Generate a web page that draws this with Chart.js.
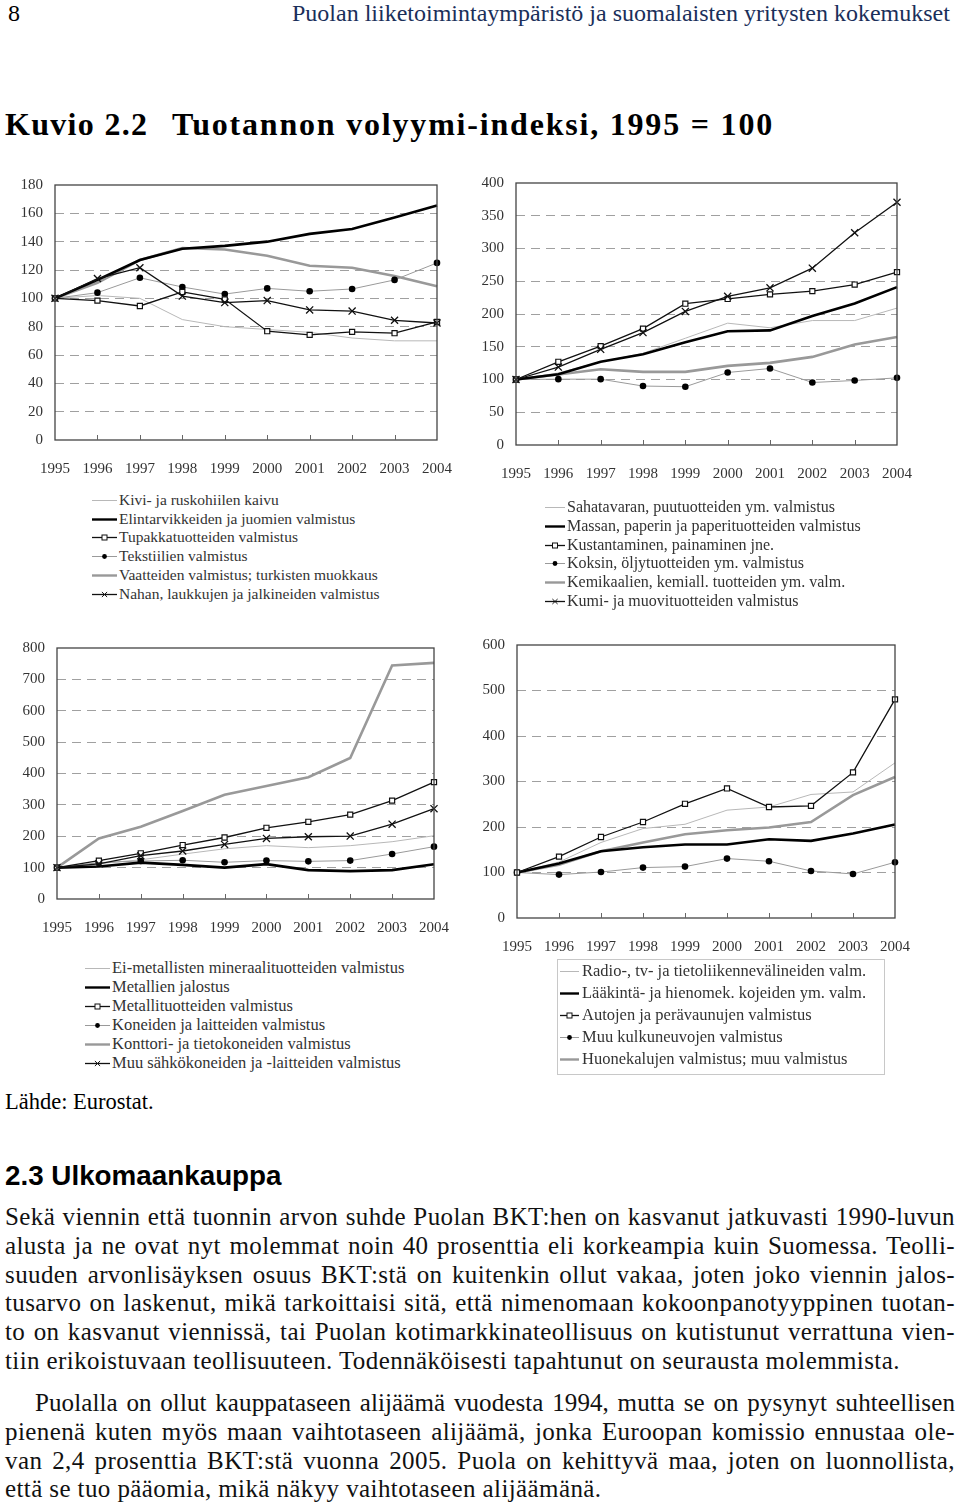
<!DOCTYPE html>
<html><head><meta charset="utf-8">
<script src="https://cdn.jsdelivr.net/npm/chart.js@4.4.1/dist/chart.umd.min.js"></script>
<style>
html,body{margin:0;padding:0;background:#fff;}
body{width:960px;height:1504px;position:relative;overflow:hidden;font-family:"Liberation Serif","DejaVu Serif",serif;color:#000;}
.abs{position:absolute;white-space:nowrap;}
canvas{position:absolute;}
.leg{position:absolute;font-family:"Liberation Serif",serif;color:#333;}
.leg .row{position:absolute;left:0;white-space:nowrap;height:18px;line-height:18px;}
.leg svg{position:absolute;left:0;top:0;}
.leg span{position:absolute;top:0;}
.txt{position:absolute;left:5px;width:950px;font-size:25px;letter-spacing:0.4px;line-height:28.8px;font-family:"Liberation Serif",serif;color:#111;}
.txt div{text-align:justify;text-align-last:justify;white-space:nowrap;}
.txt div.last{text-align-last:left;}
</style></head><body>
<div class="abs" style="left:8px;top:0px;font-size:24px;">8</div>
<div class="abs" style="left:292px;top:0px;font-size:24px;color:#1a2f5a;">Puolan liiketoimintaympäristö ja suomalaisten yritysten kokemukset</div>
<div class="abs" style="left:5px;top:106px;font-size:32px;font-weight:bold;letter-spacing:1.3px;">Kuvio 2.2</div>
<div class="abs" style="left:172px;top:106px;font-size:32px;font-weight:bold;letter-spacing:1.8px;">Tuotannon volyymi-indeksi, 1995 = 100</div>

<canvas id="c1" width="472" height="316" style="left:0;top:164px;"></canvas>
<canvas id="c2" width="472" height="323" style="left:460px;top:162px;"></canvas>
<canvas id="c3" width="469" height="308" style="left:0;top:627px;"></canvas>
<canvas id="c4" width="470" height="329" style="left:460px;top:624px;"></canvas>

<div id="l1" class="leg" style="left:92px;top:491px;font-size:15.5px;"></div>
<div id="l2" class="leg" style="left:545px;top:498px;font-size:16px;"></div>
<div id="l3" class="leg" style="left:85px;top:959px;font-size:16.5px;"></div>
<div id="l4" class="leg" style="left:560px;top:962px;font-size:16.5px;"></div>
<div class="abs" style="left:557px;top:959px;width:326px;height:114px;border:1px solid #c8c8c8;"></div>

<div class="abs" style="left:5px;top:1089px;font-size:22.5px;">Lähde: Eurostat.</div>
<div class="abs" style="left:5px;top:1160px;font-size:27.8px;font-weight:bold;font-family:'Liberation Sans',Arial,sans-serif;">2.3 Ulkomaankauppa</div>
<div class="txt" style="top:1203px;">
<div>Sekä viennin että tuonnin arvon suhde Puolan BKT:hen on kasvanut jatkuvasti 1990-luvun</div>
<div>alusta ja ne ovat nyt molemmat noin 40 prosenttia eli korkeampia kuin Suomessa. Teolli-</div>
<div>suuden arvonlisäyksen osuus BKT:stä on kuitenkin ollut vakaa, joten joko viennin jalos-</div>
<div>tusarvo on laskenut, mikä tarkoittaisi sitä, että nimenomaan kokoonpanotyyppinen tuotan-</div>
<div>to on kasvanut viennissä, tai Puolan kotimarkkinateollisuus on kutistunut verrattuna vien-</div>
<div class="last">tiin erikoistuvaan teollisuuteen. Todennäköisesti tapahtunut on seurausta molemmista.</div>
</div>
<div class="txt" style="top:1389px;">
<div style="padding-left:30px;letter-spacing:0.1px;">Puolalla on ollut kauppataseen alijäämä vuodesta 1994, mutta se on pysynyt suhteellisen</div>
<div>pienenä kuten myös maan vaihtotaseen alijäämä, jonka Euroopan komissio ennustaa ole-</div>
<div>van 2,4 prosenttia BKT:stä vuonna 2005. Puola on kehittyvä maa, joten on luonnollista,</div>
<div class="last">että se tuo pääomia, mikä näkyy vaihtotaseen alijäämänä.</div>
</div>

<script>
// ---------- DATA ----------
const years = ["1995","1996","1997","1998","1999","2000","2001","2002","2003","2004"];

// Chart 1 (0–180)
const kivi        = [100,102,100,85,80,78,76,72,70,70];
const elintarvike = [100,113,127,135,137,140,145.5,149,157,165.5];
const tupakka     = [100,98.4,94.6,104.5,99.3,76.8,74.2,76.3,75.4,83.3];
const tekstiili   = [100,104,114.5,108,103,107,105,106.6,113,125];
const vaatteet    = [100,111,127,135.5,134.5,130,123,121.6,115.7,108.5];
const nahka       = [100,114,121.6,101.6,97,98.4,91.8,91,84.5,82.6];
const labels1 = ["Kivi- ja ruskohiilen kaivu","Elintarvikkeiden ja juomien valmistus","Tupakkatuotteiden valmistus","Tekstiilien valmistus","Vaatteiden valmistus; turkisten muokkaus","Nahan, laukkujen ja jalkineiden valmistus"];

// Chart 2 (0–400)
const sahatavara  = [100,110,127,140,163,186,179,190,190,209];
const massa       = [100,108,127,138.6,157,173.6,175,197,216,241];
const kustannus   = [100,127,151,177.7,215.7,223,230,235,245,264];
const koksi       = [100,100.5,100.5,90,89,110.7,116.8,95.4,98.5,102.5];
const kemikaali   = [100,107.6,115.7,111.7,111.7,120.8,125.4,134.5,153.3,165];
const kumi        = [100,119,146,171.6,204,227,240,270,324,370.6];
const labels2 = ["Sahatavaran, puutuotteiden ym. valmistus","Massan, paperin ja paperituotteiden valmistus","Kustantaminen, painaminen jne.","Koksin, öljytuotteiden ym. valmistus","Kemikaalien, kemiall. tuotteiden ym. valm.","Kumi- ja muovituotteiden valmistus"];

// Chart 3 (0–800)
const eimetalli   = [100,113,125,143,160,170,163.6,170,182.6,201.6];
const metallit    = [100,103.4,116,108.7,100,111,92,88.7,92,111];
const metallituot = [100,122,145.6,172,196,227,246,269,313.5,372.6];
const koneet      = [100,116,121,123.5,117,122.4,120,122.4,143.5,166.8];
const konttori    = [100,193,230,280.7,332.5,360,388,449.6,744,752.5];
const sahko       = [100,112,138,153,174,193,198.4,200.5,238.5,288];
const labels3 = ["Ei-metallisten mineraalituotteiden valmistus","Metallien jalostus","Metallituotteiden valmistus","Koneiden ja laitteiden valmistus","Konttori- ja tietokoneiden valmistus","Muu sähkökoneiden ja -laitteiden valmistus"];

// Chart 4 (0–600)
const radio       = [100,123,166,196.6,206,237,244,271.5,277,341];
const laakinta    = [100,119.6,146.7,155.5,161.4,161.4,173,169.5,185.6,205.4];
const autot       = [100,135,178,211,251,284.7,244,246.5,320,480.6];
const kulkuneuvot = [100,95.4,101,110.8,113,130.6,124.7,103.4,96.8,122.5];
const huonekalut  = [100,117,146.7,165.8,184,193,198.8,211,270,310];
const labels4 = ["Radio-, tv- ja tietoliikennevälineiden valm.","Lääkintä- ja hienomek. kojeiden ym. valm.","Autojen ja perävaunujen valmistus","Muu kulkuneuvojen valmistus","Huonekalujen valmistus; muu valmistus"];

// ---------- STYLES ----------
const ST = {
  thin:  {borderColor:'#b8b8b8',borderWidth:1,pointRadius:0},
  black: {borderColor:'#000',borderWidth:2.6,pointRadius:0},
  sq:    {borderColor:'#111',borderWidth:1.3,pointStyle:'rect',pointRadius:3.6,pointBackgroundColor:'#fff',pointBorderColor:'#111',pointBorderWidth:1.2},
  dot:   {borderColor:'#9a9a9a',borderWidth:1,pointStyle:'circle',pointRadius:3.3,pointBackgroundColor:'#000',pointBorderColor:'#000',pointBorderWidth:0},
  gray:  {borderColor:'#999',borderWidth:2.6,pointRadius:0},
  x:     {borderColor:'#111',borderWidth:1.3,pointStyle:'crossRot',pointRadius:5,pointBorderColor:'#111',pointBorderWidth:1.3}
};
function ds(label,data,style,order){return Object.assign({label,data,tension:0,fill:false,order},ST[style]);}

const framePlugin = {id:'frame',afterDraw(ch){
  const a=ch.chartArea,c=ch.ctx,xs=ch.scales.x;
  c.save();c.strokeStyle='#444';c.lineWidth=1.3;
  c.strokeRect(a.left,a.top,a.right-a.left,a.bottom-a.top);
  c.lineWidth=1;c.strokeStyle='#666';c.beginPath();
  for(let i=1;i<years.length-1;i++){const px=Math.round(xs.getPixelForValue(i))+0.5;c.moveTo(px,a.bottom);c.lineTo(px,a.bottom-5);}
  c.stroke();c.restore();}};

Chart.defaults.font.family = '"Liberation Serif","DejaVu Serif",serif';
Chart.defaults.color = '#333';

function makeChart(id,datasets,max,step,pad,yw,xh,xpad){
  return new Chart(document.getElementById(id),{
    type:'line',
    data:{labels:years,datasets},
    plugins:[framePlugin],
    options:{
      responsive:false,animation:false,
      layout:{padding:pad},
      plugins:{legend:{display:false},tooltip:{enabled:false}},
      scales:{
        x:{offset:false,grid:{display:false,drawTicks:false},border:{display:false},
           ticks:{font:{size:15},padding:xpad,maxRotation:0,autoSkip:false,color:'#333'},
           afterFit(s){s.height=xh;}},
        y:{min:0,max:max,grid:{color:(c)=>(c.tick&&(c.tick.value===0||c.tick.value===max))?'rgba(0,0,0,0)':'#a0a0a0',drawTicks:false,lineWidth:1},
           border:{display:false,dash:[9,6]},
           ticks:{stepSize:step,font:{size:15},padding:12,color:'#333'},
           afterFit(s){s.width=yw;}}
      }
    }
  });
}

makeChart('c1',[
  ds(labels1[0],kivi,'thin',6),ds(labels1[1],elintarvike,'black',2),ds(labels1[2],tupakka,'sq',1),
  ds(labels1[3],tekstiili,'dot',3),ds(labels1[4],vaatteet,'gray',4),ds(labels1[5],nahka,'x',0)
],180,20,{top:8,right:13,left:0,bottom:0},55,40,20);

makeChart('c2',[
  ds(labels2[0],sahatavara,'thin',6),ds(labels2[1],massa,'black',2),ds(labels2[2],kustannus,'sq',1),
  ds(labels2[3],koksi,'dot',3),ds(labels2[4],kemikaali,'gray',4),ds(labels2[5],kumi,'x',0)
],400,50,{top:8,right:13,left:0,bottom:0},56,40,20);

makeChart('c3',[
  ds(labels3[0],eimetalli,'thin',6),ds(labels3[1],metallit,'black',2),ds(labels3[2],metallituot,'sq',1),
  ds(labels3[3],koneet,'dot',3),ds(labels3[4],konttori,'gray',4),ds(labels3[5],sahko,'x',0)
],800,100,{top:6,right:16,left:0,bottom:0},57,36,20);

makeChart('c4',[
  ds(labels4[0],radio,'thin',6),ds(labels4[1],laakinta,'black',2),ds(labels4[2],autot,'sq',1),
  ds(labels4[3],kulkuneuvot,'dot',3),ds(labels4[4],huonekalut,'gray',4)
],600,100,{top:6,right:15,left:0,bottom:0},57,35,20);

// ---------- LEGENDS (HTML) ----------
function sample(style,w){
  const s=ST[style];let h=`<svg width="${w}" height="18">`;
  h+=`<line x1="0" y1="9.5" x2="${w}" y2="9.5" stroke="${s.borderColor}" stroke-width="${Math.min(s.borderWidth,2.4)}"/>`;
  const m=w/2;
  if(style==='sq')h+=`<rect x="${m-2.5}" y="7" width="5" height="5" fill="#fff" stroke="#111" stroke-width="1"/>`;
  if(style==='dot')h+=`<circle cx="${m}" cy="9.5" r="2.4" fill="#000"/>`;
  if(style==='x')h+=`<path d="M${m-2.6} 7 L${m+2.6} 12 M${m+2.6} 7 L${m-2.6} 12" stroke="#111" stroke-width="1"/>`;
  return h+'</svg>';
}
function legend(id,labels,styles,w,gap,step){
  const el=document.getElementById(id);let h='';
  labels.forEach((t,i)=>{h+=`<div class="row" style="top:${i*step}px">${sample(styles[i],w)}<span style="left:${w+gap}px">${t}</span></div>`;});
  el.innerHTML=h;
}
const st6=['thin','black','sq','dot','gray','x'];
legend('l1',labels1,st6,25,2,18.7);
legend('l2',labels2,st6,20,2,18.8);
legend('l3',labels3,st6,25,2,19);
legend('l4',labels4,['thin','black','sq','dot','gray'],19,3,22);
</script>
</body></html>
